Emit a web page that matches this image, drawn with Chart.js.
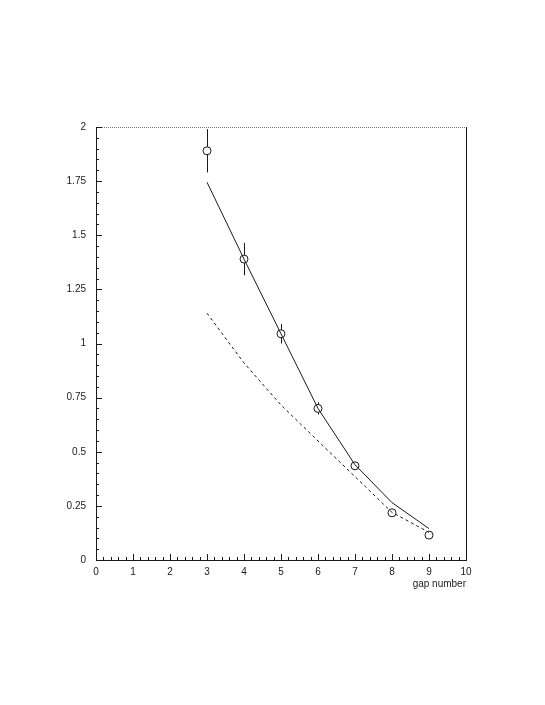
<!DOCTYPE html>
<html>
<head>
<meta charset="utf-8">
<script src="https://cdn.jsdelivr.net/npm/chart.js@4/dist/chart.umd.min.js"></script>
<style>
html,body{margin:0;padding:0;background:#fff;}
canvas{display:block;}
</style>
</head>
<body>
<canvas id="c" width="545" height="705"></canvas>
<script>
// ---- data ----
const gaps = [3, 4, 5, 6, 7, 8, 9];
const measured = [1.89, 1.39, 1.045, 0.70, 0.435, 0.218, 0.115];
const measuredErr = [0.10, 0.075, 0.045, 0.028, 0.012, 0.008, 0.005];
const modelSolid = [1.745, 1.39, 1.045, 0.70, 0.44, 0.265, 0.145];
const modelDashed = [1.14, 0.91, 0.716, 0.55, 0.385, 0.22, 0.128];
const xTickMin = 0, xTickMax = 10, xTickStep = 1;
const yTickMin = 0, yTickMax = 2, yTickStep = 0.25;
const xAxisTitle = 'gap number';

const pts = (ys) => gaps.map((g, i) => ({x: g, y: ys[i]}));

const FONT = "'Liberation Sans', Arial, sans-serif";
const INK = '#1a1a1a';

const decorPlugin = {
  id: 'decor',
  beforeDatasetsDraw(chart) {
    const ctx = chart.ctx;
    const xs = chart.scales.x, ys = chart.scales.y;
    ctx.save();
    ctx.strokeStyle = INK;
    ctx.lineWidth = 1;
    gaps.forEach((g, i) => {
      const px = Math.round(xs.getPixelForValue(g)) + 0.5;
      const top = ys.getPixelForValue(measured[i] + measuredErr[i]);
      const bot = ys.getPixelForValue(measured[i] - measuredErr[i]);
      ctx.beginPath();
      ctx.moveTo(px, top);
      ctx.lineTo(px, bot);
      ctx.stroke();
    });
    ctx.restore();
  },
  afterDraw(chart) {
    const ctx = chart.ctx;
    const a = chart.chartArea;
    const xs = chart.scales.x, ys = chart.scales.y;
    ctx.save();
    ctx.strokeStyle = INK;
    ctx.lineWidth = 1;
    ctx.beginPath();
    ctx.moveTo(Math.round(a.right) + 0.5, a.top);
    ctx.lineTo(Math.round(a.right) + 0.5, a.bottom);
    ctx.stroke();
    ctx.strokeStyle = '#777';
    ctx.setLineDash([1, 1]);
    ctx.beginPath();
    ctx.moveTo(a.left, Math.round(a.top) + 0.5);
    ctx.lineTo(a.right, Math.round(a.top) + 0.5);
    ctx.stroke();
    ctx.setLineDash([]);
    ctx.strokeStyle = INK;
    const nx = (xTickMax - xTickMin) / xTickStep * 5;
    for (let i = 0; i <= nx; i++) {
      const v = xTickMin + i * xTickStep / 5;
      const px = Math.round(xs.getPixelForValue(v)) + 0.5;
      const len = (i % 5 === 0) ? 6 : 3;
      ctx.beginPath();
      ctx.moveTo(px, a.bottom);
      ctx.lineTo(px, a.bottom - len);
      ctx.stroke();
    }
    const ny = Math.round((yTickMax - yTickMin) / yTickStep) * 5;
    for (let i = 0; i <= ny; i++) {
      const v = yTickMin + i * yTickStep / 5;
      const py = Math.round(ys.getPixelForValue(v)) + 0.5;
      const len = (i % 5 === 0) ? 6 : 3;
      ctx.beginPath();
      ctx.moveTo(a.left, py);
      ctx.lineTo(a.left + len, py);
      ctx.stroke();
    }
    ctx.restore();
  }
};

const fmt = (v) => String(Number(Number(v).toFixed(2)));

new Chart(document.getElementById('c'), {
  type: 'line',
  data: {
    datasets: [
      {
        label: 'model',
        data: pts(modelSolid),
        borderColor: INK,
        borderWidth: 1,
        pointRadius: 0,
        fill: false,
        tension: 0
      },
      {
        label: 'model (dashed)',
        data: pts(modelDashed),
        borderColor: INK,
        borderWidth: 1,
        borderDash: [3, 3],
        pointRadius: 0,
        fill: false,
        tension: 0
      },
      {
        label: 'data',
        data: pts(measured),
        showLine: false,
        pointStyle: 'circle',
        pointRadius: 4,
        pointBorderWidth: 1,
        pointBorderColor: INK,
        pointBackgroundColor: '#fff'
      }
    ]
  },
  options: {
    responsive: false,
    animation: false,
    events: [],
    layout: {padding: {left: 0, top: 127, right: 79, bottom: 115}},
    plugins: {legend: {display: false}, tooltip: {enabled: false}},
    scales: {
      x: {
        type: 'linear',
        min: xTickMin, max: xTickMax,
        afterFit(s) { s.height = 30; },
        grid: {display: false, drawTicks: false},
        border: {display: true, color: INK, width: 1},
        ticks: {stepSize: xTickStep, padding: 6, color: INK, font: {family: FONT, size: 10}, maxRotation: 0, callback: fmt},
        title: {display: true, text: xAxisTitle, align: 'end', color: INK, font: {family: FONT, size: 10}, padding: {top: 0, bottom: 0}}
      },
      y: {
        type: 'linear',
        min: yTickMin, max: yTickMax,
        afterFit(s) { s.width = 96; },
        grid: {display: false, drawTicks: false},
        border: {display: true, color: INK, width: 1},
        ticks: {stepSize: yTickStep, padding: 10, color: INK, font: {family: FONT, size: 10}, callback: fmt}
      }
    }
  },
  plugins: [decorPlugin]
});
</script>
</body>
</html>
